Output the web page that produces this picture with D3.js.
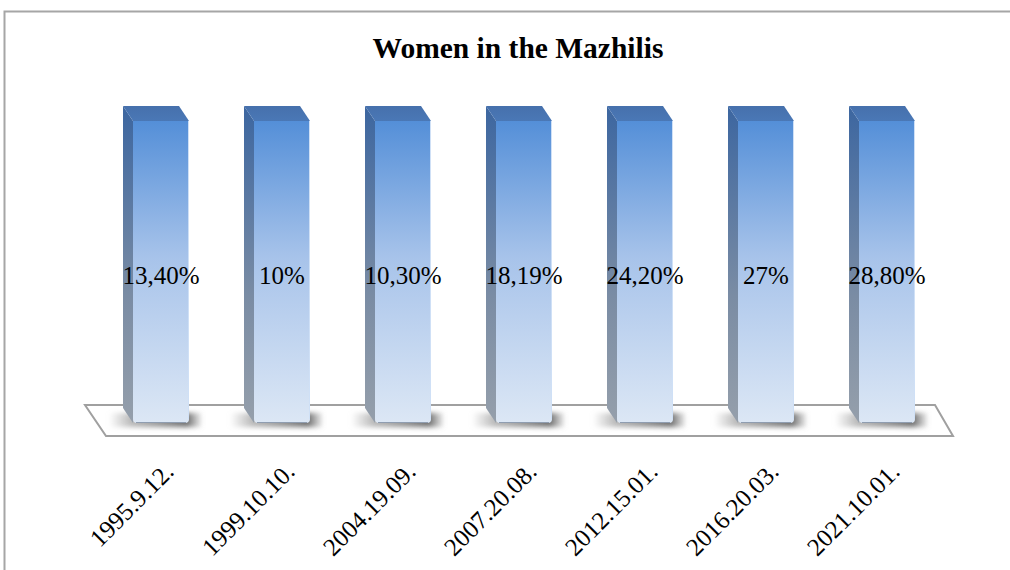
<!DOCTYPE html>
<html>
<head>
<meta charset="utf-8">
<script src="https://cdn.jsdelivr.net/npm/d3@7"></script>
<style>
  html, body { margin: 0; padding: 0; background: #fff; }
  svg { display: block; }
</style>
</head>
<body>
<svg id="chart" width="1010" height="570"></svg>
<script>
// ---- data ----
const title = "Women in the Mazhilis";
const categories = ["1995.9.12.", "1999.10.10.", "2004.19.09.", "2007.20.08.", "2012.15.01.", "2016.20.03.", "2021.10.01."];
const values = [13.4, 10, 10.3, 18.19, 24.2, 27, 28.8];
const valueLabels = ["13,40%", "10%", "10,30%", "18,19%", "24,20%", "27%", "28,80%"];

// ---- layout ----
const W = 1010, H = 570;
const svg = d3.select("#chart");
const serif = "'Liberation Serif', 'Times New Roman', serif";
const depthX = 10, depthY = 15;

// single-series 100% stacked column (each bar = share of its own total)
const rows = categories.map((c, i) => ({ cat: c, women: values[i] }));
const stacked = d3.stack().keys(["women"]).offset(d3.stackOffsetExpand)(rows)[0];

const x = d3.scaleBand().domain(categories).range([68, 980])
  .paddingInner(65 / 121).paddingOuter(65 / 121);
const y = d3.scaleLinear().domain([0, 1]).range([423, 121]);

const defs = svg.append("defs");
const gFront = defs.append("linearGradient").attr("id", "gFront")
  .attr("x1", 0).attr("y1", 0).attr("x2", 0).attr("y2", 1);
gFront.append("stop").attr("offset", "0%").attr("stop-color", "#548fd8");
gFront.append("stop").attr("offset", "45%").attr("stop-color", "#a7c3ea");
gFront.append("stop").attr("offset", "100%").attr("stop-color", "#dce7f5");
const gSide = defs.append("linearGradient").attr("id", "gSide")
  .attr("x1", 0).attr("y1", 0).attr("x2", 0).attr("y2", 1);
gSide.append("stop").attr("offset", "0%").attr("stop-color", "#3c66a0");
gSide.append("stop").attr("offset", "60%").attr("stop-color", "#7a8ca4");
gSide.append("stop").attr("offset", "100%").attr("stop-color", "#959fab");
const gTop = defs.append("linearGradient").attr("id", "gTop")
  .attr("x1", 0).attr("y1", 0).attr("x2", 0).attr("y2", 1);
gTop.append("stop").attr("offset", "0%").attr("stop-color", "#4670ac");
gTop.append("stop").attr("offset", "100%").attr("stop-color", "#4a78b6");
const gShadow = defs.append("linearGradient").attr("id", "gShadow")
  .attr("x1", 0).attr("y1", 0).attr("x2", 1).attr("y2", 0);
gShadow.append("stop").attr("offset", "0%").attr("stop-color", "#9a9a9a").attr("stop-opacity", 0.0);
gShadow.append("stop").attr("offset", "25%").attr("stop-color", "#9a9a9a").attr("stop-opacity", 0.7);
gShadow.append("stop").attr("offset", "85%").attr("stop-color", "#6e6e6e").attr("stop-opacity", 1);
gShadow.append("stop").attr("offset", "100%").attr("stop-color", "#8a8a8a").attr("stop-opacity", 0.2);
defs.append("filter").attr("id", "blur").attr("x", "-50%").attr("y", "-100%")
  .attr("width", "200%").attr("height", "300%")
  .append("feGaussianBlur").attr("stdDeviation", 2.5);

// frame
svg.append("path")
  .attr("d", `M4.5,${H} L4.5,11.5 L${W},11.5`)
  .attr("fill", "none").attr("stroke", "#a6a6a6").attr("stroke-width", 2);

// title
svg.append("text").attr("x", 518).attr("y", 58)
  .attr("text-anchor", "middle")
  .attr("font-family", serif).attr("font-weight", "bold").attr("font-size", 29.5)
  .text(title);

// floor
const y0 = y(0);
svg.append("path")
  .attr("d", `M85,405 L935,405 L953,436 L106,436 Z`)
  .attr("fill", "#fff").attr("stroke", "#a0a0a0").attr("stroke-width", 2);

// shadows
svg.append("g").selectAll("rect").data(stacked).join("rect")
  .attr("x", d => x(d.data.cat) - 24)
  .attr("y", y0 - 10)
  .attr("width", x.bandwidth() + 36)
  .attr("height", 14)
  .attr("fill", "url(#gShadow)")
  .attr("filter", "url(#blur)");

const bars = svg.append("g").selectAll("g").data(stacked).join("g");

// side faces
bars.append("path")
  .attr("d", d => {
    const bx = x(d.data.cat), t = y(d[1]), b = y(d[0]);
    return `M${bx - depthX},${t - depthY} L${bx},${t} L${bx},${b} L${bx - depthX},${b - depthY} Z`;
  })
  .attr("fill", "url(#gSide)");

// top faces
bars.append("path")
  .attr("d", d => {
    const bx = x(d.data.cat), t = y(d[1]), w = x.bandwidth();
    return `M${bx},${t} L${bx + w},${t} L${bx + w - depthX},${t - depthY} L${bx - depthX},${t - depthY} Z`;
  })
  .attr("fill", "url(#gTop)");

// front faces
bars.append("path")
  .attr("d", d => {
    const bx = x(d.data.cat), t = y(d[1]), b = y(d[0]), w = x.bandwidth(), r = 4;
    return `M${bx},${t} L${bx + w},${t} L${bx + w},${b - r} Q${bx + w},${b} ${bx + w - r},${b} L${bx + r},${b} Q${bx},${b} ${bx},${b - r} Z`;
  })
  .attr("fill", "url(#gFront)");

// right edge highlight
bars.append("line")
  .attr("x1", d => x(d.data.cat) + x.bandwidth() - 0.5).attr("x2", d => x(d.data.cat) + x.bandwidth() - 0.5)
  .attr("y1", d => y(d[1])).attr("y2", d => y(d[0]) - 4)
  .attr("stroke", "#cfe0f6").attr("stroke-width", 1);

// bottom edge of front faces
bars.append("line")
  .attr("x1", d => x(d.data.cat) + 3).attr("x2", d => x(d.data.cat) + x.bandwidth() - 3)
  .attr("y1", y0 - 0.5).attr("y2", y0 - 0.5)
  .attr("stroke", "#8f9db0").attr("stroke-width", 1);

// value labels
bars.append("text")
  .attr("x", d => x(d.data.cat) + x.bandwidth() / 2)
  .attr("y", d => y((d[0] + d[1]) / 2) + 12)
  .attr("text-anchor", "middle")
  .attr("font-family", serif).attr("font-size", 25).attr("fill", "#000")
  .text((d, i) => valueLabels[i]);

// category axis labels
svg.append("g").selectAll("text").data(categories).join("text")
  .attr("transform", c => `translate(${x(c) + x.bandwidth() / 2 + 8},${467}) rotate(-45)`)
  .attr("text-anchor", "end")
  .attr("dy", "0.35em")
  .attr("font-family", serif).attr("font-size", 25).attr("fill", "#000")
  .text(c => c);
</script>
</body>
</html>
